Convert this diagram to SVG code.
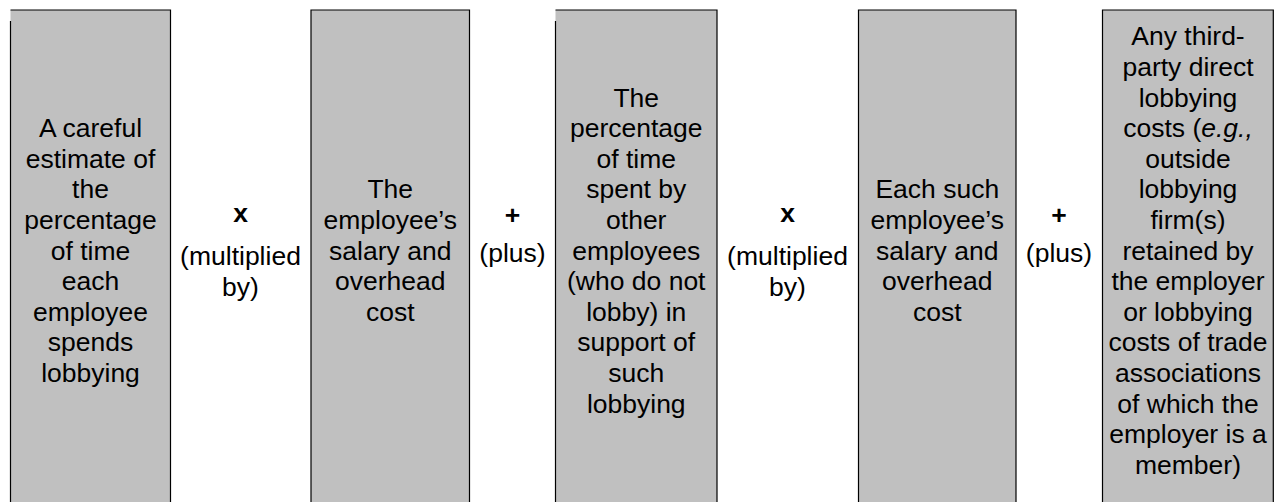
<svg xmlns="http://www.w3.org/2000/svg" width="1274" height="502" viewBox="0 0 1274 502">
<style>
.box{fill:#c0c0c0;stroke:none}
.edge{fill:none;stroke:#000;stroke-width:1.2}
.t{font-family:"Liberation Sans",Arial,sans-serif;font-size:26.5px;fill:#000;text-anchor:middle}
.op{font-family:"Liberation Sans",Arial,sans-serif;font-size:26.5px;font-weight:bold;fill:#000;text-anchor:middle}
</style>
<rect width="1274" height="502" fill="#fff"/>
<g id="node1">
<rect class="box" x="10.5" y="10" width="160" height="492"/>
<path class="edge" d="M10.5 10H170.5V502M10.5 21V502"/>
<text class="t"><tspan x="90.5" y="137.1">A careful</tspan><tspan x="90.5" y="167.7">estimate of</tspan><tspan x="90.5" y="198.3">the</tspan><tspan x="90.5" y="228.9">percentage</tspan><tspan x="90.5" y="259.5">of time</tspan><tspan x="90.5" y="290.1">each</tspan><tspan x="90.5" y="320.7">employee</tspan><tspan x="90.5" y="351.3">spends</tspan><tspan x="90.5" y="381.9">lobbying</tspan></text>
</g>
<g id="op1">
<text class="op" x="240.5" y="222">x</text>
<text class="t"><tspan x="240.5" y="265">(multiplied</tspan><tspan x="240.5" y="295.6">by)</tspan></text>
</g>
<g id="node2">
<rect class="box" x="311" y="10" width="158.5" height="492"/>
<path class="edge" d="M311 502V10H469.5V502"/>
<text class="t"><tspan x="390.25" y="198.3">The</tspan><tspan x="390.25" y="228.9">employee’s</tspan><tspan x="390.25" y="259.5">salary and</tspan><tspan x="390.25" y="290.1">overhead</tspan><tspan x="390.25" y="320.7">cost</tspan></text>
</g>
<g id="op2">
<text class="op" x="512.5" y="224">+</text>
<text class="t" x="512.5" y="262">(plus)</text>
</g>
<g id="node3">
<rect class="box" x="555.5" y="10" width="161.5" height="492"/>
<path class="edge" d="M555.5 10H717V502M555.5 21V502"/>
<text class="t"><tspan x="636.25" y="106.5">The</tspan><tspan x="636.25" y="137.1">percentage</tspan><tspan x="636.25" y="167.7">of time</tspan><tspan x="636.25" y="198.3">spent by</tspan><tspan x="636.25" y="228.9">other</tspan><tspan x="636.25" y="259.5">employees</tspan><tspan x="636.25" y="290.1">(who do not</tspan><tspan x="636.25" y="320.7">lobby) in</tspan><tspan x="636.25" y="351.3">support of</tspan><tspan x="636.25" y="381.9">such</tspan><tspan x="636.25" y="412.5">lobbying</tspan></text>
</g>
<g id="op3">
<text class="op" x="787.5" y="222">x</text>
<text class="t"><tspan x="787.5" y="265">(multiplied</tspan><tspan x="787.5" y="295.6">by)</tspan></text>
</g>
<g id="node4">
<rect class="box" x="858.5" y="10" width="157.5" height="492"/>
<path class="edge" d="M858.5 502V10H1016V502"/>
<text class="t"><tspan x="937.25" y="198.3">Each such</tspan><tspan x="937.25" y="228.9">employee’s</tspan><tspan x="937.25" y="259.5">salary and</tspan><tspan x="937.25" y="290.1">overhead</tspan><tspan x="937.25" y="320.7">cost</tspan></text>
</g>
<g id="op4">
<text class="op" x="1059" y="224">+</text>
<text class="t" x="1059" y="262">(plus)</text>
</g>
<g id="node5">
<rect class="box" x="1102.5" y="10" width="171" height="492"/>
<path class="edge" d="M1102.5 502V10H1273.3V502"/>
<text class="t"><tspan x="1188" y="45.3">Any third-</tspan><tspan x="1188" y="75.9">party direct</tspan><tspan x="1188" y="106.5">lobbying</tspan><tspan x="1188" y="137.1">costs (<tspan font-style="italic">e.g.,</tspan></tspan><tspan x="1188" y="167.7">outside</tspan><tspan x="1188" y="198.3">lobbying</tspan><tspan x="1188" y="228.9">firm(s)</tspan><tspan x="1188" y="259.5">retained by</tspan><tspan x="1188" y="290.1">the employer</tspan><tspan x="1188" y="320.7">or lobbying</tspan><tspan x="1188" y="351.3">costs of trade</tspan><tspan x="1188" y="381.9">associations</tspan><tspan x="1188" y="412.5">of which the</tspan><tspan x="1188" y="443.1">employer is a</tspan><tspan x="1188" y="473.7">member)</tspan></text>
</g>
<g id="connectors"></g>
</svg>
